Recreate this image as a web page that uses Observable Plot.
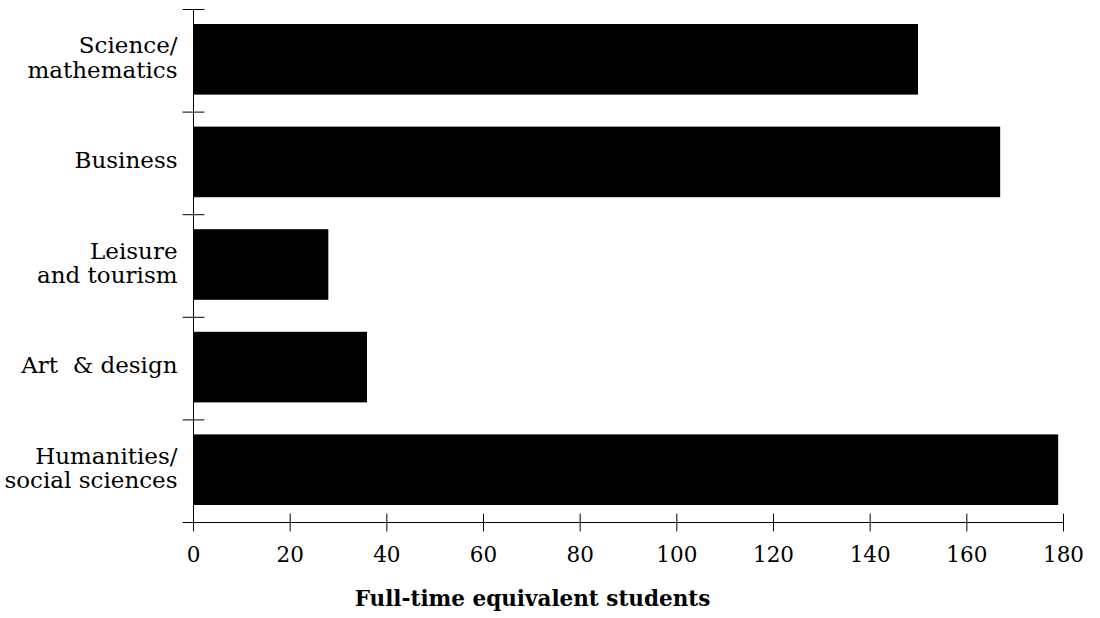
<!DOCTYPE html>
<html>
<head>
<meta charset="utf-8">
<script src="https://cdn.jsdelivr.net/npm/d3@7"></script>
<script src="https://cdn.jsdelivr.net/npm/@observablehq/plot@0.6"></script>
<style>
  html, body { margin: 0; padding: 0; background: #fff; }
</style>
</head>
<body>
<div id="chart"></div>
<script>
const categories = ["Science/\nmathematics", "Business", "Leisure\nand tourism", "Art\u00a0 & design", "Humanities/\nsocial sciences"];
const values = [150, 167, 28, 36, 179];
const xTicks = [0, 20, 40, 60, 80, 100, 120, 140, 160, 180];
const xLabel = "Full-time equivalent students";

const data = categories.map((c, i) => ({category: c, value: values[i], index: i}));
const boundaries = d3.range(categories.length + 1);
const n = categories.length;

const line = {draw(context, l) { context.moveTo(0, 0); context.lineTo(0, -l); }};

const chart = Plot.plot({
  width: 1100,
  height: 618,
  marginLeft: 193,
  marginRight: 37,
  marginTop: 9,
  marginBottom: 96,
  style: {fontFamily: "'DejaVu Serif', serif", fontSize: "22px", color: "#000", background: "#fff"},
  x: {domain: [0, 180], axis: null},
  y: {domain: [n, 0], axis: null},
  marks: [
    Plot.rect(data, {x1: 0, x2: "value", y1: d => d.index, y2: d => d.index + 1, insetTop: 15, insetBottom: 17, fill: "#000"}),
    Plot.ruleX([0], {y1: 0, y2: n, stroke: "#000"}),
    Plot.ruleY([n], {x1: 0, x2: 180, stroke: "#000"}),
    Plot.vector(boundaries, {x: () => 0, y: d => d, length: 21, rotate: 90, anchor: "middle", shape: line, stroke: "#000", strokeWidth: 1}),
    Plot.vector(xTicks, {x: d => d, y: () => n, length: 17, rotate: 0, anchor: "middle", shape: line, stroke: "#000", strokeWidth: 1}),
    Plot.text(xTicks, {x: d => d, y: () => n, text: d => String(d), dy: 33, fontSize: 21.5, fill: "#000"}),
    Plot.text(data, {x: () => 0, y: d => d.index + 0.5, text: "category", textAnchor: "end", dx: -16, dy: -3, lineHeight: 1.05, fontSize: 23, fill: "#000"}),
    Plot.text([xLabel], {frameAnchor: "bottom", dx: -96, dy: 83, text: d => d, fontSize: 21.5, fontWeight: "bold", fill: "#000"})
  ]
});
document.getElementById("chart").appendChild(chart);
</script>
</body>
</html>
